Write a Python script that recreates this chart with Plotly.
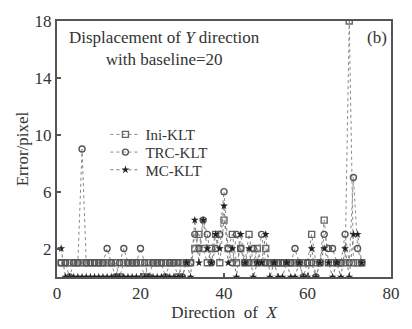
import plotly.graph_objects as go

x = list(range(1, 74))

ini_klt = [1,1,1,1,1,1,1,1,1,1, 1,1,1,1,0,1,1,1,1,1,
           0,1,1,1,1,1,1,1,0,1, 1,1,2,3,2,1,2,3,1,4,
           2,3,1,2,1,3,1,2,1,2, 1,1,1,1,1,1,1,1,1,1,
           3,1,1,4,1,1,1,1,1,18, 1,1,1]
trc_klt = [1,1,0,1,1,9,1,1,1,1, 1,2,1,0,1,2,1,1,1,2,
           1,0,1,1,1,0,1,1,1,0, 1,1,3,2,4,3,1,2,3,6,
           2,1,3,2,1,1,2,1,3,1, 1,1,1,1,1,1,2,1,0,1,
           1,0,1,3,2,2,1,1,3,1, 7,2,1]
mc_klt = [2,0,0,0,0,0,0,0,0,0, 0,0,0,0,0,0,0,0,0,0,
          0,0,0,0,0,0,0,0,0,0, 1,0,4,1,4,2,1,3,2,5,
          1,2,0,3,1,2,0,1,1,3, 0,1,0,0,1,0,0,1,0,0,
          2,0,1,2,1,0,1,0,2,0, 3,3,1]

x_ticks = [0, 20, 40, 60, 80]
y_ticks = [2, 6, 10, 14, 18]

FONT = "Liberation Serif"

fig = go.Figure()
fig.add_trace(go.Scatter(
    x=x, y=ini_klt, name="Ini-KLT", mode="lines+markers", legend="legend",
    line=dict(color="#8a8a8a", width=1, dash="dot"),
    marker=dict(symbol="square-open", size=6, color="#666666", line=dict(width=1.4)),
))
fig.add_trace(go.Scatter(
    x=x, y=trc_klt, name="TRC-KLT", mode="lines+markers", legend="legend2",
    line=dict(color="#8a8a8a", width=1, dash="dot"),
    marker=dict(symbol="circle-open", size=6, color="#555555", line=dict(width=1.4)),
))
fig.add_trace(go.Scatter(
    x=x, y=mc_klt, name="MC-KLT", mode="lines+markers", legend="legend3",
    line=dict(color="#777777", width=1, dash="dot"),
    marker=dict(symbol="star", size=6, color="#222222"),
))

fig.add_annotation(
    x=0.5, y=1.0, xref="paper", yref="paper", xanchor="center", yanchor="top",
    xshift=-60, yshift=-5,
    text="Displacement of <i>Y</i> direction<br>with baseline=20",
    showarrow=False, align="center",
    font=dict(family=FONT, size=17, color="#333333"),
)
fig.add_annotation(
    x=1.0, y=1.0, xref="paper", yref="paper", xanchor="right", yanchor="top",
    xshift=-2, yshift=-5, text="(b)", showarrow=False,
    font=dict(family=FONT, size=17, color="#333333"),
)

axis_common = dict(
    showline=True, linecolor="#555555", linewidth=2, mirror=True,
    ticks="inside", ticklen=4, tickcolor="#555555", tickwidth=1.5,
    showgrid=False, zeroline=False,
    tickfont=dict(family=FONT, size=17, color="#333333"),
)

leg_common = dict(xanchor="left", yanchor="middle", bgcolor="rgba(0,0,0,0)",
                  itemwidth=30, font=dict(family=FONT, size=15, color="#333333"))

fig.update_layout(
    width=412, height=329,
    margin=dict(l=57, r=12, t=14, b=46),
    paper_bgcolor="white", plot_bgcolor="white",
    xaxis=dict(range=[0, 80], tickvals=x_ticks,
               title=dict(text="Direction  of  <i>X</i>", standoff=2,
                          font=dict(family=FONT, size=17, color="#333333")),
               **axis_common),
    yaxis=dict(range=[0, 18], tickvals=y_ticks,
               title=dict(text="Error/pixel", standoff=2,
                          font=dict(family=FONT, size=17, color="#333333")),
               **axis_common),
    legend=dict(x=0.145, y=0.556, **leg_common),
    legend2=dict(x=0.145, y=0.487, **leg_common),
    legend3=dict(x=0.145, y=0.418, **leg_common),
    showlegend=True,
)

fig.write_html("out.html")
